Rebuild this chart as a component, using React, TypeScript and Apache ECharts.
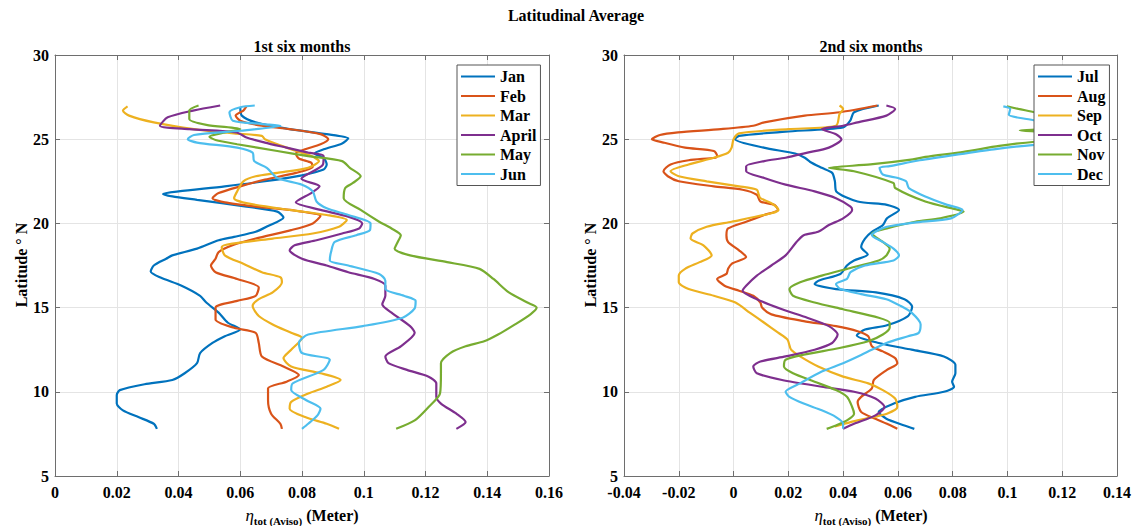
import React, { useEffect, useRef } from 'react';
import * as echarts from 'echarts';

// ---------- data: [eta_tot (m), latitude] ----------
const monthsH1 = ['Jan', 'Feb', 'Mar', 'April', 'May', 'Jun'];
const monthsH2 = ['Jul', 'Aug', 'Sep', 'Oct', 'Nov', 'Dec'];
const colors = ['#0072BD', '#D95319', '#EDB120', '#7E2F8E', '#77AC30', '#4DBEEE'];

const latTicks = [5, 10, 15, 20, 25, 30];
const xTicksH1 = [0, 0.02, 0.04, 0.06, 0.08, 0.1, 0.12, 0.14, 0.16];
const xTicksH2 = [-0.04, -0.02, 0, 0.02, 0.04, 0.06, 0.08, 0.1, 0.12, 0.14];

const jan = [[0.060,26.9],[0.0605,26.4],[0.065,26.0],[0.076,25.6],[0.088,25.3],[0.095,25.05],[0.093,24.75],[0.087,24.4],[0.084,24.15],[0.087,23.9],[0.088,23.5],[0.087,23.2],[0.080,22.85],[0.070,22.55],[0.055,22.2],[0.040,21.9],[0.035,21.75],[0.038,21.6],[0.046,21.4],[0.062,21.0],[0.072,20.7],[0.074,20.35],[0.069,19.85],[0.065,19.5],[0.058,19.2],[0.053,19.0],[0.046,18.5],[0.038,18.1],[0.036,17.9],[0.032,17.5],[0.031,17.15],[0.034,16.8],[0.041,16.3],[0.047,15.7],[0.049,15.3],[0.053,14.7],[0.056,14.1],[0.060,13.7],[0.055,13.3],[0.051,12.9],[0.047,12.3],[0.046,11.7],[0.042,11.1],[0.038,10.7],[0.029,10.45],[0.021,10.1],[0.020,9.8],[0.020,9.3],[0.022,8.9],[0.027,8.5],[0.032,8.1],[0.033,7.8]];
const feb = [[0.062,26.95],[0.061,26.7],[0.0585,26.4],[0.060,26.1],[0.067,25.8],[0.076,25.6],[0.086,25.3],[0.0885,25.0],[0.086,24.7],[0.081,24.4],[0.078,24.15],[0.079,23.85],[0.083,23.6],[0.0835,23.35],[0.078,23.0],[0.068,22.6],[0.060,22.2],[0.053,21.8],[0.051,21.5],[0.055,21.25],[0.065,21.0],[0.078,20.75],[0.086,20.45],[0.0835,20.0],[0.0765,19.6],[0.065,19.1],[0.0575,18.7],[0.053,18.3],[0.052,17.9],[0.0505,17.5],[0.052,17.1],[0.059,16.7],[0.066,16.2],[0.065,15.7],[0.059,15.4],[0.052,15.0],[0.052,14.3],[0.058,13.8],[0.065,13.5],[0.066,12.9],[0.067,12.1],[0.074,11.5],[0.079,11.0],[0.075,10.6],[0.069,10.2],[0.069,9.5],[0.070,8.7],[0.073,8.1],[0.0735,7.8]];
const mar = [[0.0235,26.95],[0.022,26.7],[0.024,26.4],[0.032,26.0],[0.045,25.6],[0.058,25.35],[0.067,25.2],[0.068,25.0],[0.075,24.5],[0.083,24.0],[0.0855,23.7],[0.082,23.3],[0.072,23.0],[0.065,22.8],[0.061,22.5],[0.059,21.9],[0.058,21.5],[0.062,21.2],[0.076,20.8],[0.088,20.5],[0.0945,20.2],[0.092,19.8],[0.0835,19.4],[0.0705,19.1],[0.0575,18.8],[0.054,18.6],[0.055,18.1],[0.061,17.6],[0.067,17.1],[0.073,16.8],[0.0735,16.5],[0.0705,15.9],[0.066,15.5],[0.064,15.1],[0.066,14.5],[0.0705,14.0],[0.0765,13.5],[0.080,13.2],[0.0765,12.5],[0.074,12.0],[0.0765,11.5],[0.086,11.1],[0.0925,10.7],[0.088,10.3],[0.082,9.9],[0.0765,9.4],[0.076,9.0],[0.081,8.5],[0.088,8.1],[0.092,7.8]];
const apr = [[0.0535,27.0],[0.0447,26.7],[0.0365,26.3],[0.034,25.8],[0.0435,25.6],[0.0588,25.4],[0.062,25.1],[0.068,24.8],[0.075,24.5],[0.082,24.2],[0.087,24.0],[0.0868,23.5],[0.0798,22.65],[0.0857,22.2],[0.083,21.8],[0.078,21.25],[0.086,20.8],[0.095,20.4],[0.0995,20.0],[0.0985,19.7],[0.093,19.4],[0.0847,19.0],[0.0776,18.7],[0.076,18.4],[0.080,17.9],[0.088,17.5],[0.095,17.1],[0.1035,16.7],[0.107,16.3],[0.107,15.7],[0.106,15.2],[0.109,14.7],[0.115,13.9],[0.1165,13.5],[0.112,12.7],[0.107,12.1],[0.108,11.7],[0.114,11.3],[0.121,10.9],[0.1235,10.5],[0.1235,9.7],[0.125,9.3],[0.130,8.7],[0.133,8.2],[0.130,7.8]];
const may = [[0.0465,27.0],[0.0435,26.7],[0.0435,26.2],[0.049,25.85],[0.060,25.6],[0.055,25.4],[0.050,25.15],[0.052,24.95],[0.059,24.7],[0.072,24.3],[0.082,24.0],[0.093,23.7],[0.0955,23.3],[0.099,22.8],[0.0965,22.4],[0.094,22.1],[0.0935,21.5],[0.099,20.8],[0.105,20.1],[0.109,19.7],[0.112,19.3],[0.111,18.9],[0.110,18.5],[0.115,18.1],[0.127,17.7],[0.1375,17.3],[0.142,16.7],[0.147,15.9],[0.153,15.3],[0.156,15.0],[0.154,14.6],[0.149,14.0],[0.1435,13.4],[0.139,13.0],[0.133,12.7],[0.128,12.3],[0.125,11.7],[0.125,11.1],[0.1247,9.9],[0.121,9.1],[0.1165,8.3],[0.1105,7.8]];
const jun = [[0.0647,27.0],[0.060,26.9],[0.0565,26.6],[0.0576,26.1],[0.067,25.9],[0.073,25.8],[0.060,25.5],[0.045,25.25],[0.043,25.0],[0.046,24.8],[0.059,24.5],[0.064,24.2],[0.0645,23.7],[0.0686,23.3],[0.072,22.7],[0.080,22.3],[0.0835,21.9],[0.0847,21.3],[0.088,20.9],[0.095,20.5],[0.1022,20.0],[0.102,19.6],[0.0976,19.3],[0.0906,18.9],[0.0894,18.3],[0.089,17.8],[0.095,17.5],[0.105,17.0],[0.107,16.6],[0.107,16.1],[0.113,15.7],[0.1168,15.4],[0.1165,14.95],[0.1126,14.4],[0.0997,13.9],[0.082,13.4],[0.079,12.9],[0.080,12.3],[0.089,11.9],[0.087,11.3],[0.077,10.5],[0.0765,10.1],[0.0814,9.5],[0.086,9.0],[0.085,8.6],[0.082,8.1],[0.080,7.8]];

const jul = [[0.053,27.0],[0.044,26.6],[0.0426,26.1],[0.040,25.7],[0.019,25.45],[0.002,25.2],[0.0005,25.0],[0.011,24.5],[0.0225,24.15],[0.026,23.9],[0.028,23.65],[0.0322,23.3],[0.036,23.0],[0.037,22.5],[0.0375,21.9],[0.0453,21.3],[0.056,21.1],[0.0604,20.8],[0.056,20.3],[0.0545,19.9],[0.0505,19.5],[0.048,19.1],[0.0466,18.6],[0.049,18.15],[0.044,17.8],[0.0414,17.5],[0.039,17.0],[0.031,16.6],[0.0296,16.4],[0.0374,16.1],[0.052,15.9],[0.0624,15.5],[0.0652,15.05],[0.0637,14.5],[0.056,13.95],[0.048,13.7],[0.045,13.35],[0.053,12.9],[0.065,12.5],[0.0768,12.1],[0.081,11.6],[0.081,11.1],[0.0798,10.6],[0.0805,10.3],[0.0768,10.0],[0.0663,9.7],[0.0585,9.3],[0.053,8.8],[0.0558,8.4],[0.0624,8.0],[0.066,7.8]];
const aug = [[0.0525,27.0],[0.0388,26.6],[0.026,26.4],[0.0112,26.0],[0.0072,25.8],[-0.0046,25.6],[-0.0203,25.4],[-0.0269,25.25],[-0.0298,25.0],[-0.0256,24.8],[-0.0177,24.5],[-0.0072,24.3],[-0.006,24.0],[-0.0066,23.9],[-0.0164,23.75],[-0.023,23.5],[-0.0256,23.1],[-0.024,22.8],[-0.020,22.5],[-0.0072,22.2],[0.0033,22.0],[0.0085,21.7],[0.0098,21.3],[0.015,21.1],[0.0162,20.8],[0.0112,20.5],[0.0046,20.1],[-0.002,19.7],[-0.0026,19.3],[-0.002,18.9],[0.002,18.4],[0.0046,18.0],[-0.0007,17.6],[-0.002,17.3],[-0.0026,17.0],[-0.006,16.7],[-0.0033,16.3],[0.002,16.0],[0.0072,15.7],[0.0098,15.3],[0.0104,15.0],[0.0138,14.6],[0.0256,14.2],[0.0374,13.9],[0.0453,13.6],[0.0492,13.3],[0.0505,12.7],[0.0545,12.4],[0.059,12.0],[0.0598,11.7],[0.056,11.3],[0.0512,10.7],[0.0505,10.2],[0.0466,9.7],[0.0453,9.4],[0.0466,8.8],[0.0518,8.4],[0.056,8.1],[0.0598,7.8]];
const sep = [[0.0387,27.0],[0.040,26.8],[0.0387,26.5],[0.0374,25.8],[0.020,25.6],[0.002,25.35],[0.0,25.0],[-0.0007,24.5],[-0.002,24.2],[-0.0072,23.9],[-0.0164,23.5],[-0.023,23.1],[-0.020,22.8],[-0.0098,22.5],[0.002,22.2],[0.0085,22.0],[0.0092,21.7],[0.0098,21.5],[0.0138,21.2],[0.0164,20.8],[0.0138,20.6],[-0.0007,20.1],[-0.0098,19.8],[-0.015,19.4],[-0.0157,19.1],[-0.011,18.7],[-0.008,18.1],[-0.0124,17.7],[-0.0177,17.3],[-0.020,16.9],[-0.020,16.5],[-0.0164,16.1],[-0.0072,15.7],[0.0007,15.3],[0.0059,14.7],[0.0112,14.1],[0.0164,13.5],[0.0197,13.1],[0.021,12.5],[0.0243,12.1],[0.0309,11.5],[0.040,10.9],[0.0492,10.5],[0.0545,10.1],[0.059,9.6],[0.0598,9.1],[0.056,8.7],[0.048,8.4],[0.0427,8.2],[0.037,7.95]];
const oct = [[0.0558,27.0],[0.059,26.8],[0.0558,26.4],[0.0453,26.0],[0.040,25.8],[0.0322,25.6],[0.0374,25.3],[0.0394,25.0],[0.0348,24.5],[0.027,24.2],[0.019,23.9],[0.0112,23.7],[0.0046,23.4],[0.0046,23.1],[0.0112,22.7],[0.019,22.3],[0.0296,21.9],[0.0374,21.5],[0.0427,21.0],[0.0433,20.8],[0.040,20.3],[0.0348,19.9],[0.0309,19.5],[0.0256,19.3],[0.023,18.9],[0.019,18.1],[0.0138,17.5],[0.0085,16.9],[0.0046,16.3],[0.0033,16.0],[0.0085,15.5],[0.0177,14.9],[0.0269,14.4],[0.0348,13.9],[0.038,13.4],[0.036,12.9],[0.0296,12.5],[0.019,12.1],[0.0098,11.8],[0.0072,11.5],[0.0085,11.1],[0.0177,10.7],[0.0322,10.3],[0.044,10.0],[0.0518,9.6],[0.0551,9.1],[0.0518,8.6],[0.044,8.1],[0.040,7.8]];
const nov = [[0.0998,26.95],[0.104,26.8],[0.110,26.6],[0.118,26.3],[0.121,25.9],[0.112,25.6],[0.1045,25.52],[0.112,25.45],[0.124,25.3],[0.125,25.0],[0.110,24.85],[0.097,24.6],[0.084,24.25],[0.070,23.95],[0.0655,23.8],[0.050,23.5],[0.0348,23.3],[0.044,23.1],[0.0584,22.4],[0.059,22.1],[0.070,21.3],[0.082,20.8],[0.084,20.7],[0.0755,20.3],[0.0663,20.1],[0.056,19.7],[0.0505,19.4],[0.0545,18.9],[0.057,18.5],[0.0558,18.1],[0.053,17.8],[0.0414,17.3],[0.0322,16.9],[0.0243,16.5],[0.0204,16.1],[0.0217,15.7],[0.0296,15.3],[0.040,14.9],[0.053,14.4],[0.057,14.1],[0.057,13.8],[0.0545,13.4],[0.0492,13.0],[0.0387,12.6],[0.0256,12.2],[0.019,11.9],[0.0184,11.5],[0.0217,11.1],[0.0296,10.6],[0.0374,10.1],[0.0414,9.7],[0.0433,9.1],[0.044,8.7],[0.0414,8.3],[0.0374,8.0],[0.034,7.8]];
const dec = [[0.0985,26.95],[0.101,26.8],[0.1005,26.45],[0.107,26.2],[0.116,25.95],[0.126,25.6],[0.130,25.2],[0.128,24.85],[0.109,24.65],[0.095,24.4],[0.082,24.1],[0.068,23.75],[0.057,23.4],[0.0533,23.3],[0.0545,22.9],[0.060,22.7],[0.063,22.5],[0.064,22.1],[0.070,21.6],[0.078,21.1],[0.0836,20.8],[0.0794,20.3],[0.066,20.05],[0.056,19.8],[0.0518,19.5],[0.0505,19.3],[0.0545,18.9],[0.0584,18.5],[0.0604,18.1],[0.0584,17.8],[0.048,17.5],[0.0427,17.1],[0.0414,16.7],[0.0374,16.4],[0.039,16.1],[0.0466,15.8],[0.0558,15.5],[0.061,15.1],[0.065,14.7],[0.0683,14.0],[0.0676,13.5],[0.0637,13.3],[0.0558,12.9],[0.048,12.3],[0.040,11.7],[0.0322,11.2],[0.0243,10.5],[0.019,10.0],[0.0204,9.7],[0.0256,9.3],[0.0322,8.9],[0.0374,8.5],[0.040,8.1],[0.040,7.8]];

const dataH1 = [jan, feb, mar, apr, may, jun];
const dataH2 = [jul, aug, sep, oct, nov, dec];

const FONT = '"Liberation Serif", "Times New Roman", serif';
const FRAME = '#6e6e6e';
const GRIDC = '#e4e4e4';

const fmt = (v: number) => String(Math.round(v * 100) / 100);

function makeAxes(gi: number, ticks: number[], isX: boolean) {
  const min = ticks[0];
  const max = ticks[ticks.length - 1];
  const interval = Math.round((ticks[1] - ticks[0]) * 1000) / 1000;
  const main: any = {
    gridIndex: gi,
    type: 'value',
    min,
    max,
    interval,
    position: isX ? 'bottom' : 'left',
    axisLine: { show: true, onZero: false, lineStyle: { color: FRAME, width: 1 } },
    axisTick: { show: true, inside: true, length: 5, lineStyle: { color: FRAME } },
    axisLabel: {
      show: true,
      color: '#000',
      fontFamily: FONT,
      fontWeight: 'bold',
      fontSize: 16,
      margin: isX ? 8 : 6,
      formatter: fmt,
    },
    splitLine: { show: true, lineStyle: { color: GRIDC, width: 1 } },
  };
  const other: any = {
    gridIndex: gi,
    type: 'value',
    min,
    max,
    interval,
    position: isX ? 'top' : 'right',
    axisLine: { show: true, onZero: false, lineStyle: { color: FRAME, width: 1 } },
    axisTick: { show: true, inside: true, length: 5, lineStyle: { color: FRAME } },
    axisLabel: { show: false },
    splitLine: { show: false },
  };
  return [main, other];
}

export default function App() {
  const ref = useRef<HTMLDivElement>(null);

  useEffect(() => {
    if (!ref.current) return;
    const chart = echarts.init(ref.current, undefined, { renderer: 'svg' });

    const series: any[] = [];
    monthsH1.forEach((m, i) => {
      series.push({
        name: m,
        type: 'line',
        xAxisIndex: 0,
        yAxisIndex: 0,
        data: dataH1[i],
        showSymbol: false,
        symbol: 'none',
        smooth: 0.25,
        color: colors[i],
        lineStyle: { width: 2.2, color: colors[i] },
      });
    });
    monthsH2.forEach((m, i) => {
      series.push({
        name: m,
        type: 'line',
        xAxisIndex: 2,
        yAxisIndex: 2,
        data: dataH2[i],
        showSymbol: false,
        symbol: 'none',
        smooth: 0.25,
        color: colors[i],
        lineStyle: { width: 2.2, color: colors[i] },
      });
    });

    const legendBase = {
      orient: 'vertical',
      icon: 'rect',
      itemWidth: 34,
      itemHeight: 2,
      itemGap: 0.5,
      padding: [2, 4, 2, 4],
      backgroundColor: '#fff',
      borderColor: '#555',
      borderWidth: 1,
      borderRadius: 0,
      selectedMode: false,
      textStyle: { fontFamily: FONT, fontWeight: 'bold', fontSize: 16, color: '#000', lineHeight: 19 },
    };

    const txt = (text: string, x: number, y: number, extra: any = {}) => ({
      type: 'text',
      x,
      y,
      ...extra,
      style: {
        text,
        fill: '#000',
        fontFamily: FONT,
        fontWeight: 'bold',
        fontSize: 16,
        align: 'center',
        verticalAlign: 'middle',
        ...(extra.style || {}),
      },
    });

    const xName = (x: number) => ({
      type: 'text',
      x,
      y: 515,
      style: {
        text: '{e|η}{s|tot (Aviso)}{m| (Meter)}',
        align: 'center',
        verticalAlign: 'middle',
        fill: '#000',
        rich: {
          e: { fontFamily: FONT, fontStyle: 'italic', fontSize: 17, lineHeight: 22, fill: '#000' },
          s: { fontFamily: FONT, fontWeight: 'bold', fontSize: 11, lineHeight: 8, verticalAlign: 'bottom', fill: '#000' },
          m: { fontFamily: FONT, fontWeight: 'bold', fontSize: 16, lineHeight: 22, fill: '#000' },
        },
      },
    });

    const [x0, x1] = makeAxes(0, xTicksH1, true);
    const [x2, x3] = makeAxes(1, xTicksH2, true);
    const [y0, y1] = makeAxes(0, latTicks, false);
    const [y2, y3] = makeAxes(1, latTicks, false);

    chart.setOption({
      animation: false,
      backgroundColor: '#fff',
      grid: [
        { left: 55, top: 55, width: 494, height: 421 },
        { left: 624, top: 55, width: 494, height: 421 },
      ],
      xAxis: [x0, x1, x2, x3],
      yAxis: [y0, y1, y2, y3],
      legend: [
        { ...legendBase, data: monthsH1, left: 457, top: 65 },
        { ...legendBase, data: monthsH2, left: 1034, top: 65 },
      ],
      graphic: [
        txt('Latitudinal Average', 576, 15),
        txt('1st six months', 302, 46),
        txt('2nd six months', 871, 46),
        txt('Latitude ° N', 21, 265, { rotation: Math.PI / 2 }),
        txt('Latitude ° N', 590, 265, { rotation: Math.PI / 2 }),
        xName(302),
        xName(871),
      ],
      series,
    });

    return () => {
      chart.dispose();
    };
  }, []);

  return (
    <div
      ref={ref}
      style={{ position: 'absolute', left: 0, top: 0, width: 1134, height: 526, background: '#fff' }}
    />
  );
}
